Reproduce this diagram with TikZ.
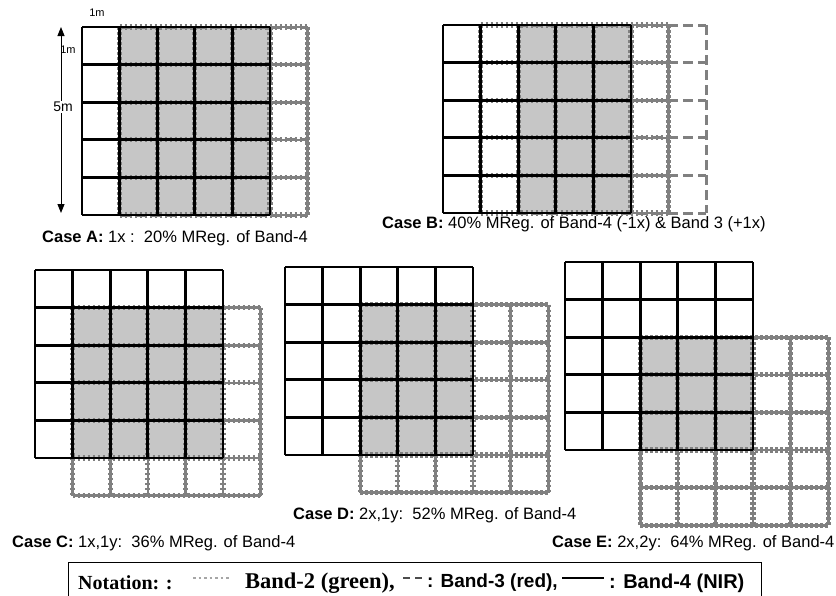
\documentclass[tikz,border=0pt]{standalone}
\usepackage{fontspec}
\setmainfont{Liberation Serif}
\setsansfont{Liberation Sans}
\usetikzlibrary{arrows.meta}

% 5x5 grid of lines, lower corner at (#2,#3) in cell units
\newcommand{\bandgrid}[3]{%
  \foreach \k in {0,...,5} {
    \draw[#1] ({#2+\k},#3) -- ({#2+\k},{#3+5});
    \draw[#1] (#2,{#3+\k}) -- ({#2+5},{#3+\k});
  }}

\begin{document}
\begin{tikzpicture}[x=1pt, y=-1pt,
    bandfour/.style={draw=black, line width=2.8pt},
    bandtwo/.style={draw=gray, line width=2.6pt,
      postaction={draw=gray, line width=5.2pt, dash pattern=on 2.6pt off 2.4pt}},
    bandthree/.style={draw=gray, line width=3pt, dash pattern=on 10pt off 5pt},
    mreg/.style={fill=gray!45},
    cellunit/.style={x=37.6pt, y=-37.6pt},
    caselabel/.style={font=\sffamily\fontsize{16.5}{19}\selectfont, anchor=west, inner sep=0pt},
    notetext/.style={font=\bfseries\fontsize{21}{25}\selectfont, anchor=west, inner sep=0pt},
    sizetext/.style={font=\sffamily\fontsize{11}{13}\selectfont, inner sep=1pt}]
    \useasboundingbox (0,0) rectangle (836,595);

    % Case A: both bands shifted by 1x
    \begin{scope}[shift={(82,27)}, cellunit]
        \fill[mreg] (1,0) rectangle (5,5);
        \bandgrid{bandtwo}{1}{0}
        \bandgrid{bandthree}{1}{0}
        \bandgrid{bandfour}{0}{0}
    \end{scope}

    % Sizes of the cells
    \coordinate (arrtop) at (61,27);
    \coordinate (arrbot) at (61,213);
    \draw[line width=1pt, {Triangle[length=9pt,width=7pt]}-{Triangle[length=9pt,width=7pt]}] (arrtop) -- (arrbot);
    \node[sizetext, fill=white, font=\sffamily\fontsize{14}{16}\selectfont] (fivem) at (63,107) {5m};
    \node[sizetext] (onem) at (68,50) {1m};
    \node[sizetext] (topm) at (97,13) {1m};

    % Case B: Band-2 shifted by 1x, Band-3 by 2x
    \begin{scope}[shift={(443,25)}, cellunit]
        \fill[mreg] (2,0) rectangle (5,5);
        \bandgrid{bandtwo}{1}{0}
        \bandgrid{bandthree}{2}{0}
        \bandgrid{bandfour}{0}{0}
    \end{scope}

    % Case C: 1x,1y
    \begin{scope}[shift={(35,270)}, cellunit]
        \fill[mreg] (1,1) rectangle (5,5);
        \bandgrid{bandtwo}{1}{1}
        \bandgrid{bandfour}{0}{0}
    \end{scope}

    % Case D: 2x,1y
    \begin{scope}[shift={(285,267)}, cellunit]
        \fill[mreg] (2,1) rectangle (5,5);
        \bandgrid{bandtwo}{2}{1}
        \bandgrid{bandfour}{0}{0}
    \end{scope}

    % Case E: 2x,2y
    \begin{scope}[shift={(565,262)}, cellunit]
        \fill[mreg] (2,2) rectangle (5,5);
        \bandgrid{bandtwo}{2}{2}
        \bandgrid{bandfour}{0}{0}
    \end{scope}

    % Case labels
    \node[caselabel] (labA) at (42,238) {\textbf{Case A:} 1x :\ \ 20\% MReg. of Band-4};
    \node[caselabel] (labB) at (382,224) {\textbf{Case B:} 40\% MReg. of Band-4 (-1x) \& Band 3 (+1x)};
    \node[caselabel] (labD) at (293,515) {\textbf{Case D:} 2x,1y:\ \ 52\% MReg. of Band-4};
    \node[caselabel] (labC) at (12,543) {\textbf{Case C:} 1x,1y:\ \ 36\% MReg. of Band-4};
    \node[caselabel] (labE) at (552,543) {\textbf{Case E:} 2x,2y:\ \ 64\% MReg. of Band-4};

    % Notation box
    \draw[line width=1pt] (68,562) rectangle (761,612);
    \node[notetext, font=\bfseries\fontsize{20}{24}\selectfont] (notA) at (78,583) {Notation: :};
    \coordinate (dotL) at (193,578);
    \coordinate (dotR) at (230,578);
    \draw[gray!70, line width=2.2pt, dash pattern=on 2.5pt off 3pt] (dotL) -- (dotR);
    \node[notetext, font=\bfseries\fontsize{22.5}{26}\selectfont] (notB) at (245,583) {Band-2 (green),};
    \coordinate (dashL) at (403,578);
    \coordinate (dashR) at (424,578);
    \draw[black!70, line width=2pt, dash pattern=on 7pt off 5pt] (dashL) -- (dashR);
    \node[notetext, font=\sffamily\bfseries\fontsize{19}{23}\selectfont] (notC) at (427,583) {: Band-3 (red),};
    \coordinate (lineL) at (562,578);
    \coordinate (lineR) at (604,578);
    \draw[black, line width=1.8pt] (lineL) -- (lineR);
    \node[notetext, font=\sffamily\bfseries\fontsize{20}{24}\selectfont] (notD) at (609,583) {: Band-4 (NIR)};
\end{tikzpicture}
\end{document}
